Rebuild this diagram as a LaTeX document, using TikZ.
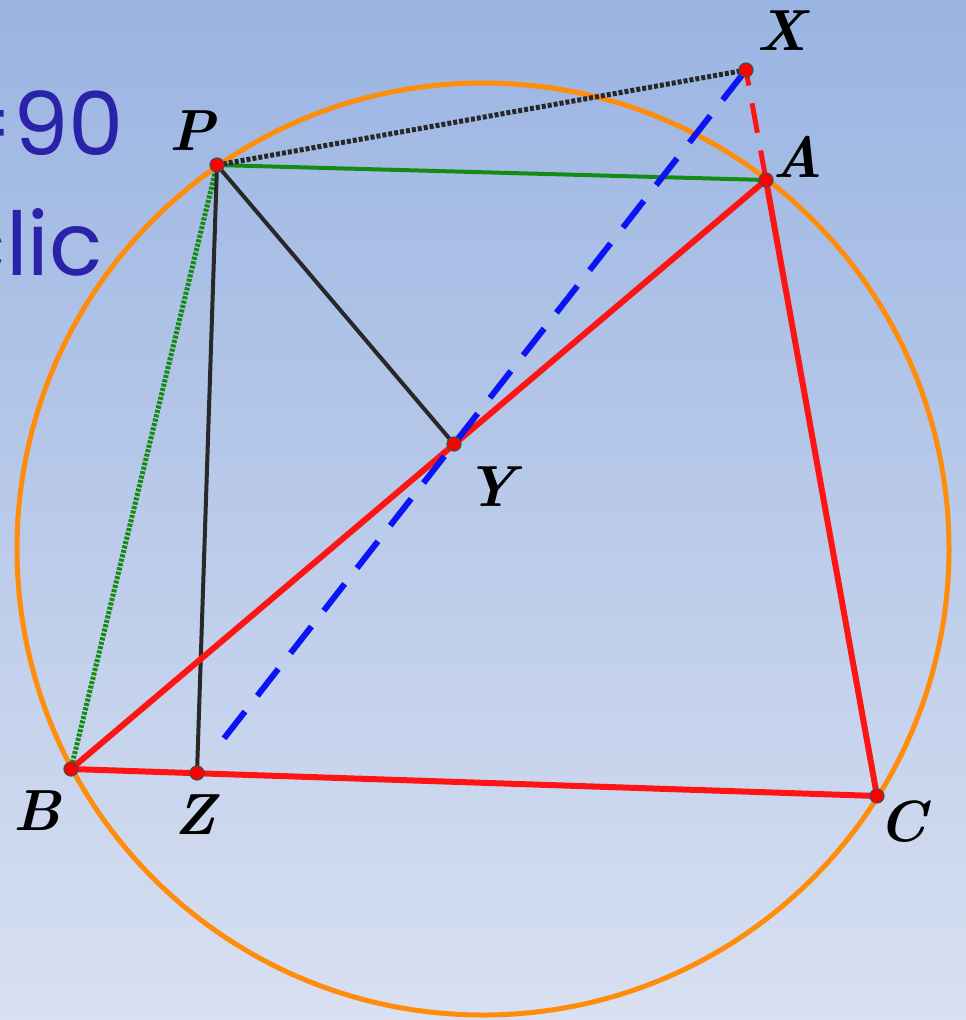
\documentclass[tikz,border=0pt]{standalone}
\usepackage{fontspec}
\newfontfamily\comicfont{Poppins}
\definecolor{bgtop}{RGB}{154,180,226}
\definecolor{bgbot}{RGB}{216,224,241}
\definecolor{ttext}{RGB}{42,34,168}
\definecolor{orng}{RGB}{255,140,10}
\definecolor{rd}{RGB}{255,20,20}
\definecolor{grn}{RGB}{20,140,20}
\definecolor{blu}{RGB}{10,20,245}
\definecolor{blk}{RGB}{40,40,40}
\tikzset{
  pt/.style={circle,fill=red,draw=black!70,line width=1.2pt,inner sep=0pt,minimum size=14pt},
  lbl/.style={font=\fontsize{58}{60}\selectfont\bfseries\itshape,inner sep=0pt},
  redline/.style={rd,line width=6pt},
  blackline/.style={blk,line width=4pt},
  greenline/.style={grn,line width=4pt},
}
\begin{document}
\begin{tikzpicture}[x=1pt,y=-1pt]
\useasboundingbox (0,0) rectangle (966,1020);
\shade[top color=bgtop,bottom color=bgbot] (0,0) rectangle (966,1020);
\begin{scope}
\clip (0,0) rectangle (966,1020);
\node[anchor=base east,text=ttext,font=\comicfont\fontsize{88}{90}\selectfont,inner sep=0pt] (t1) at (124,155) {=90};
\node[anchor=base east,text=ttext,font=\comicfont\fontsize{88}{90}\selectfont,inner sep=0pt] (t2) at (103,275) {clic};
\end{scope}
% points
\coordinate (X) at (746,70);
\coordinate (P) at (217,165);
\coordinate (A) at (766,180);
\coordinate (Y) at (454,444);
\coordinate (B) at (71,769);
\coordinate (Z) at (197,773);
\coordinate (C) at (877,796);
\coordinate (O) at (483,549);
% circle
\draw[orng,line width=5pt] (O) circle[radius=466];
% lines
\draw[greenline] (P) -- (A);
\draw[grn,line width=5pt,dash pattern=on 3pt off 1.5pt] (P) -- (B);
\draw[blk,line width=5pt,dash pattern=on 4pt off 2pt] (P) -- (X);
\draw[blackline] (P) -- (Z);
\draw[blackline] (P) -- (Y);
\draw[redline] (A) -- (B);
\draw[redline] (A) -- (C);
\draw[redline] (B) -- (C);
\draw[rd,line width=5pt,dash pattern=on 30pt off 18pt] (A) -- (X);
\draw[blu,line width=6pt,dash pattern=on 34pt off 20pt,shorten >=26pt,shorten <=4pt] (X) -- (Z);
% dots
\foreach \p in {X,P,A,Y,B,Z,C} \node[pt] (d\p) at (\p) {};
% labels
\node[lbl] (lX) at (782,31) {X};
\node[lbl] (lP) at (192,131) {P};
\node[lbl] (lA) at (798,157) {A};
\node[lbl] (lY) at (491,487) {Y};
\node[lbl] (lB) at (37,811) {B};
\node[lbl] (lZ) at (195,815) {Z};
\node[lbl] (lC) at (902,822) {C};
\end{tikzpicture}
\end{document}
